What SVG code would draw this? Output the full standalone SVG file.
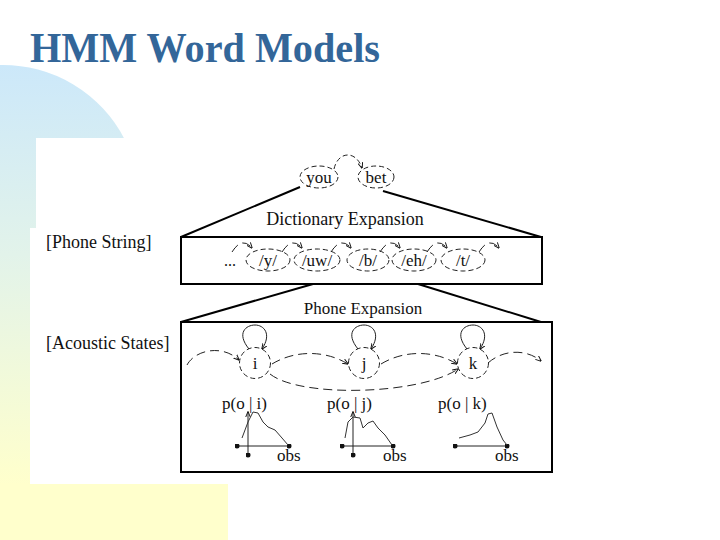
<svg xmlns="http://www.w3.org/2000/svg" width="720" height="540" viewBox="0 0 720 540">
<defs>
<linearGradient id="bg" x1="0" y1="65" x2="0" y2="485" gradientUnits="userSpaceOnUse">
<stop offset="0" stop-color="#cce8fa"/>
<stop offset="0.45" stop-color="#e2f3ea"/>
<stop offset="1" stop-color="#ffffcc"/>
</linearGradient>
<marker id="arr" viewBox="0 0 10 10" refX="9" refY="5" markerWidth="6" markerHeight="6" markerUnits="userSpaceOnUse" orient="auto">
<path d="M0,1 L10,5 L0,9" fill="none" stroke="#111" stroke-width="1.6"/>
</marker>
<marker id="dot" viewBox="0 0 10 10" refX="5" refY="5" markerWidth="5" markerHeight="5" markerUnits="userSpaceOnUse">
<circle cx="5" cy="5" r="5" fill="#111"/>
</marker>
</defs>
<style>
.t{font-family:"Liberation Serif","Times New Roman",serif;fill:#111}
.dl{fill:none;stroke:#222;stroke-width:1;stroke-dasharray:5 3}
.st{fill:none;stroke:#222;stroke-width:1}
.ar{fill:none;stroke:#222;stroke-width:1;stroke-dasharray:9 5}
.thick{fill:none;stroke:#000;stroke-width:2}
.box{fill:#fff;stroke:#000;stroke-width:2}
.cv{fill:none;stroke:#333;stroke-width:1}
</style>
<rect width="720" height="540" fill="#fff"/>
<!-- background decoration -->
<path d="M0,65 A137,137 0 0 1 125,140 L228,140 L228,540 L0,540 Z" fill="url(#bg)"/>
<rect x="0" y="484" width="228" height="56" fill="#ffffcc"/>
<!-- white figure area -->
<rect x="36" y="138" width="520" height="346" fill="#fff"/>
<rect x="30" y="228" width="20" height="256" fill="#fff"/>
<text x="30" y="62" textLength="350" lengthAdjust="spacingAndGlyphs" style="font-family:'Liberation Serif','Times New Roman',serif;font-weight:bold;font-size:43px;fill:#336699">HMM Word Models</text>

<text class="t" x="46" y="248" font-size="18">[Phone String]</text>
<text class="t" x="46" y="349" font-size="18">[Acoustic States]</text>

<!-- boxes -->
<g id="phone-box">
<rect class="box" x="181" y="237" width="361" height="47" fill="#fff"/>
</g>
<g id="acoustic-box">
<rect class="box" x="181" y="322" width="371" height="150" fill="#fff"/>
</g>

<g id="connectors">
<!-- expansion lines -->
<line class="thick" x1="300" y1="187" x2="181" y2="237"/>
<line class="thick" x1="383" y1="191" x2="541" y2="237"/>
<line class="thick" x1="313" y1="284" x2="181" y2="322"/>
<line class="thick" x1="418" y1="284" x2="541" y2="322"/>
<!-- word transition -->
<path class="dl" d="M334,169 C338,151 356,150 362,168" marker-end="url(#arr)"/>
<!-- phone transitions -->
<path class="ar" d="M232,252 Q242,236 252,248" marker-end="url(#arr)"/>
<path class="ar" d="M282,252 Q292,236 302,248" marker-end="url(#arr)"/>
<path class="ar" d="M331,252 Q341,236 351,248" marker-end="url(#arr)"/>
<path class="ar" d="M380,252 Q390,236 400,248" marker-end="url(#arr)"/>
<path class="ar" d="M427,252 Q437,236 447,248" marker-end="url(#arr)"/>
<path class="ar" d="M479,252 Q489,236 499,248" marker-end="url(#arr)"/>
<!-- state transitions -->
<path class="ar" d="M187,365 C195,350 222,344 239,360" marker-end="url(#arr)"/>
<path class="ar" d="M272,364 C295,350 325,350 348,364" marker-end="url(#arr)"/>
<path class="ar" d="M381,364 C404,350 434,350 457,364" marker-end="url(#arr)"/>
<path class="ar" d="M270,374 C300,398 420,395 458,369" marker-end="url(#arr)"/>
<path class="ar" d="M488,363 C505,348 528,350 541,361" marker-end="url(#arr)"/>
<!-- self loops -->
<path class="st" d="M249,349 C236,333 246,325 255,325 C264,325 272,334 262,349" marker-end="url(#arr)"/>
<path class="st" d="M358,349 C345,333 355,325 364,325 C373,325 381,334 371,349" marker-end="url(#arr)"/>
<path class="st" d="M467,349 C454,333 464,325 473,325 C482,325 490,334 480,349" marker-end="url(#arr)"/>
</g>

<text class="t" x="345" y="225" font-size="18" text-anchor="middle">Dictionary Expansion</text>
<text class="t" x="363" y="314" font-size="17" text-anchor="middle">Phone Expansion</text>

<g id="word-you">
<ellipse class="dl" cx="319" cy="177" rx="19" ry="11"/>
<text class="t" x="319" y="183" font-size="17" text-anchor="middle">you</text>
</g>
<g id="word-bet">
<ellipse class="dl" cx="376" cy="177" rx="18" ry="11"/>
<text class="t" x="376" y="183" font-size="17" text-anchor="middle">bet</text>
</g>

<text class="t" x="224" y="266" font-size="16">...</text>
<g id="ph-y">
<ellipse class="dl" cx="268" cy="260" rx="22" ry="11"/>
<text class="t" x="268" y="266" font-size="17" text-anchor="middle">/y/</text>
</g>
<g id="ph-uw">
<ellipse class="dl" cx="317" cy="260" rx="23" ry="11"/>
<text class="t" x="317" y="266" font-size="17" text-anchor="middle">/uw/</text>
</g>
<g id="ph-b">
<ellipse class="dl" cx="368" cy="260" rx="21" ry="11"/>
<text class="t" x="368" y="266" font-size="17" text-anchor="middle">/b/</text>
</g>
<g id="ph-eh">
<ellipse class="dl" cx="414" cy="260" rx="22" ry="11"/>
<text class="t" x="414" y="266" font-size="17" text-anchor="middle">/eh/</text>
</g>
<g id="ph-t">
<ellipse class="dl" cx="463" cy="260" rx="22" ry="11"/>
<text class="t" x="463" y="266" font-size="17" text-anchor="middle">/t/</text>
</g>

<g id="state-i">
<circle class="dl" cx="255" cy="363" r="15.5"/>
<text class="t" x="255" y="369" font-size="17" text-anchor="middle">i</text>
</g>
<g id="state-j">
<circle class="dl" cx="364" cy="363" r="15.5"/>
<text class="t" x="364" y="369" font-size="17" text-anchor="middle">j</text>
</g>
<g id="state-k">
<circle class="dl" cx="473" cy="363" r="15.5"/>
<text class="t" x="473" y="369" font-size="17" text-anchor="middle">k</text>
</g>

<g id="dist-i">
<text class="t" x="222" y="409" font-size="17">p(o | i)</text>
<line class="st" x1="237" y1="446" x2="289" y2="446" marker-start="url(#dot)" marker-end="url(#dot)"/>
<line class="st" x1="248" y1="455" x2="248" y2="412" marker-start="url(#dot)" marker-end="url(#arr)"/>
<path class="cv" d="M242,438 L248,422 L253,412 L258,413 L263,422 L268,427 L275,430 L282,438 L288,445"/>
<text class="t" x="277" y="461" font-size="17">obs</text>
</g>
<g id="dist-j">
<text class="t" x="327" y="409" font-size="17">p(o | j)</text>
<line class="st" x1="342" y1="446" x2="393" y2="446" marker-start="url(#dot)" marker-end="url(#dot)"/>
<line class="st" x1="353" y1="455" x2="353" y2="412" marker-start="url(#dot)" marker-end="url(#arr)"/>
<path class="cv" d="M345,438 L348,422 L353,417 L360,418 L363,428 L368,423 L373,421 L378,428 L385,435 L392,445"/>
<text class="t" x="383" y="461" font-size="17">obs</text>
</g>
<g id="dist-k">
<text class="t" x="438" y="409" font-size="17">p(o | k)</text>
<line class="st" x1="455" y1="446" x2="507" y2="446" marker-start="url(#dot)" marker-end="url(#dot)"/>
<path class="cv" d="M459,438 L470,435 L478,432 L485,423 L488,414 L492,413 L497,427 L503,440 L507,445"/>
<text class="t" x="495" y="461" font-size="17">obs</text>
</g>
</svg>
